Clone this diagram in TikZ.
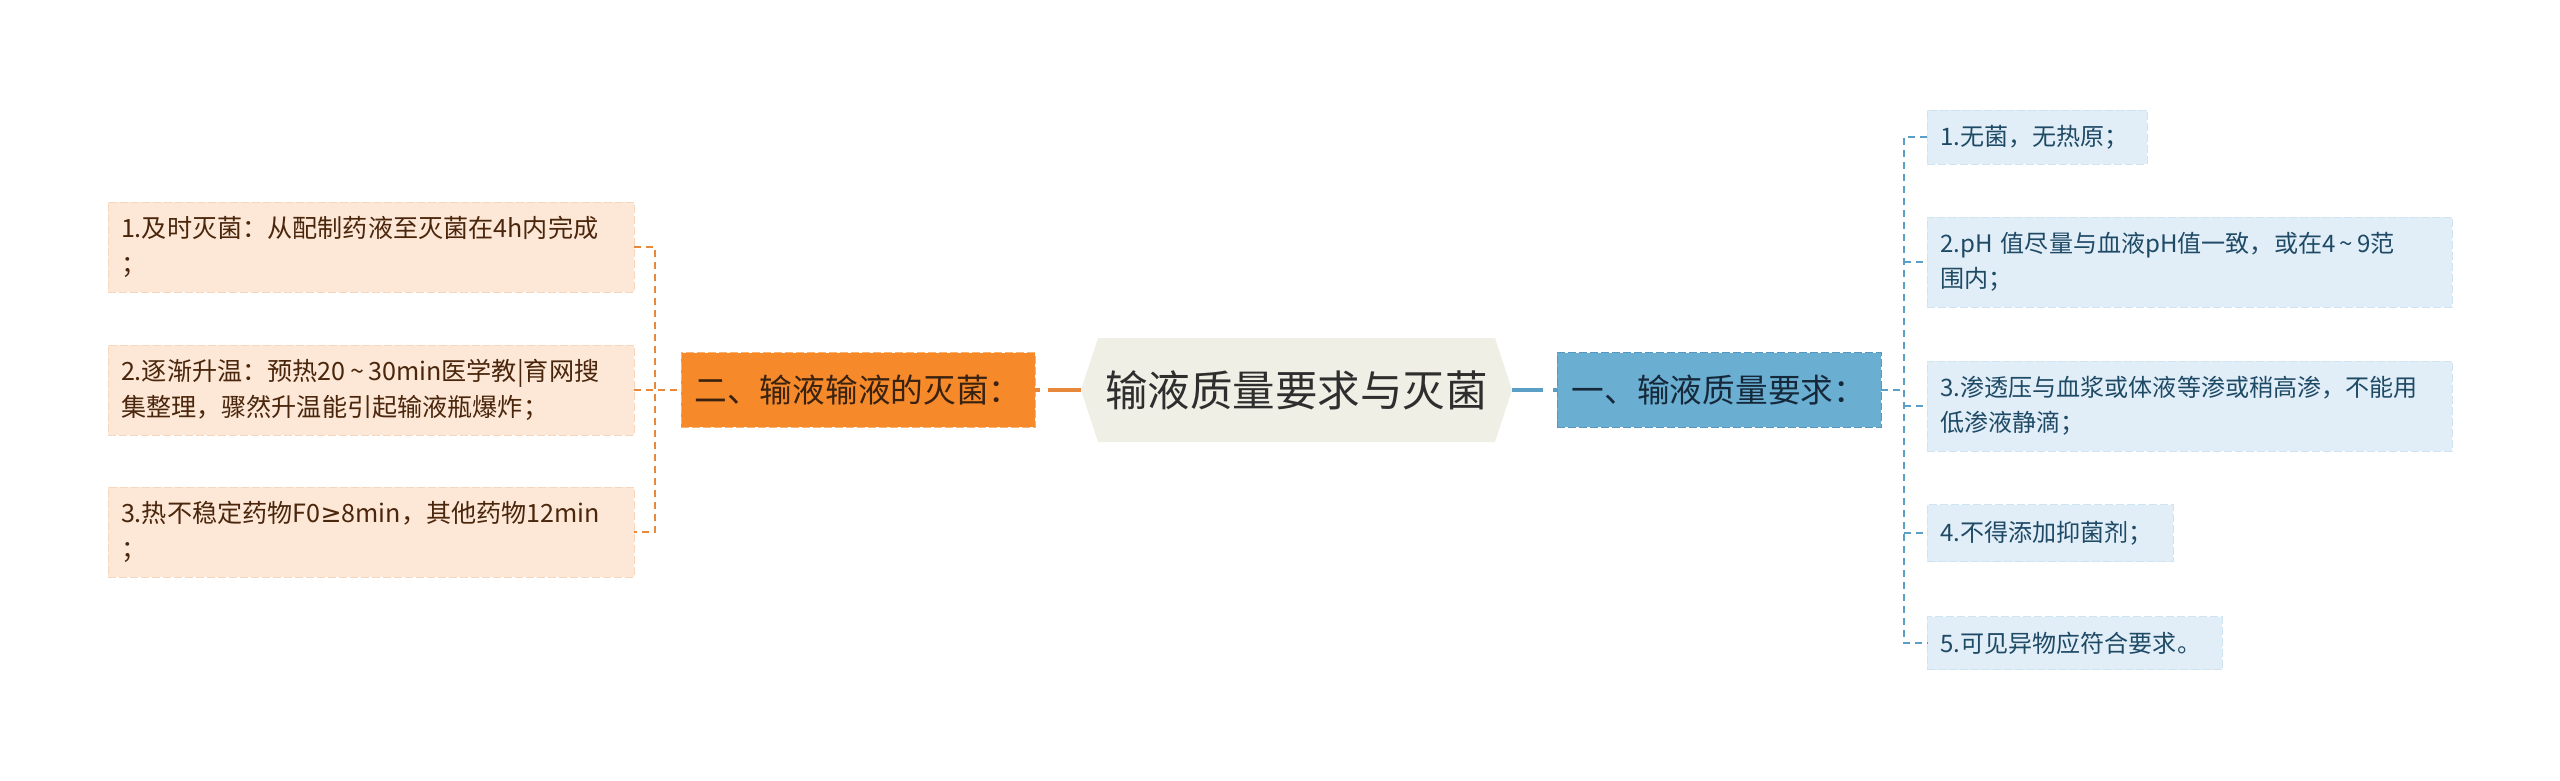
\documentclass[tikz,border=0pt]{standalone}
\usepackage{fontspec}
\setmainfont{Noto Sans CJK SC}
\newfontfamily\symfont{DejaVu Sans}
\usepackage{tikz}
\definecolor{leftfill}{HTML}{FDE7D6}
\definecolor{leftline}{HTML}{F7D6BE}
\definecolor{lefttext}{HTML}{4A260C}
\definecolor{orangefill}{HTML}{F68A2B}
\definecolor{orangeborder}{HTML}{FBB06E}
\definecolor{orangetext}{HTML}{3A2210}
\definecolor{orangeline}{HTML}{E8883A}
\definecolor{rootfill}{HTML}{EFEFE6}
\definecolor{roottext}{HTML}{2E2E2E}
\definecolor{bluefill}{HTML}{6AAED2}
\definecolor{blueborder}{HTML}{5898BE}
\definecolor{bluetext}{HTML}{16293A}
\definecolor{blueline}{HTML}{5B9FC6}
\definecolor{rightfill}{HTML}{E1EEF7}
\definecolor{rightline}{HTML}{CFE3F0}
\definecolor{righttext}{HTML}{1F4A66}
\newcommand{\wave}{\makebox[0.9em]{\textasciitilde}}

\begin{document}
\begin{tikzpicture}[x=0.02cm,y=-0.02cm,
	leftbox/.style={fill=leftfill, draw=leftline, dash pattern=on 0.16cm off 0.06cm, text=lefttext,
		font=\fontsize{14.3}{20.5}\selectfont, text width=10cm, inner xsep=0.26cm, align=left, minimum height=1.8cm},
	rightbox/.style={fill=rightfill, draw=rightline, dash pattern=on 0.16cm off 0.06cm, text=righttext,
		font=\fontsize{13.7}{20}\selectfont, inner xsep=0.26cm, anchor=west, align=left},
	orangelink/.style={draw=orangeline, line width=0.85pt, dash pattern=on 0.14cm off 0.1cm},
	bluelink/.style={draw=blueline, line width=0.85pt, dash pattern=on 0.14cm off 0.1cm}]
	\useasboundingbox (0,0) rectangle (2560,781);
	% centre
	\fill[rootfill] (1081,390) -- (1098,338) -- (1495,338) -- (1512,390) -- (1495,442) -- (1098,442) -- cycle;
	\node[minimum width=8.62cm, minimum height=2.08cm, text=roottext, font=\fontsize{24.2}{28}\selectfont] (root) at (1296.5,390) {输液质量要求与灭菌};
	% left branch
	\node[fill=orangefill, draw=orangeborder, dash pattern=on 0.16cm off 0.06cm, text=orangetext, font=\fontsize{18.6}{22}\selectfont,
		minimum width=7.08cm, minimum height=1.5cm] (sterile) at (858,390) {二、输液输液的灭菌：};
	\node[leftbox] (s1) at (371,247) {1.及时灭菌：从配制药液至灭菌在4h内完成\\；};
	\node[leftbox] (s2) at (371,390) {2.逐渐升温：预热20\wave30min医学教|育网搜\\集整理，骤然升温能引起输液瓶爆炸；};
	\node[leftbox] (s3) at (371,532) {3.热不稳定药物F0{\symfont ≥}8min，其他药物12min\\；};
	\coordinate (sjoint) at (655,390);
	\draw[orangeline, line width=2.2pt, dash pattern=on 0.66cm off 0.16cm] (root.west) -- (sterile.east);
	\draw[orangelink] (s1.east) -- (s1.east -| sjoint) -- (s3.east -| sjoint) -- (s3.east);
	\draw[orangelink] (s2.east) -- (sterile.west);
	% right branch
	\node[fill=bluefill, draw=blueborder, dash pattern=on 0.16cm off 0.06cm, text=bluetext, font=\fontsize{18.6}{22}\selectfont,
		minimum width=6.48cm, minimum height=1.5cm] (quality) at (1719,390) {一、输液质量要求：};
	\node[rightbox, text width=3.88cm, minimum height=1.08cm] (q1) at (1927,137) {1.无菌，无热原；};
	\node[rightbox, text width=9.98cm, minimum height=1.8cm] (q2) at (1927,262) {2.pH 值尽量与血液pH值一致，或在4\wave9范\\围内；};
	\node[rightbox, text width=9.98cm, minimum height=1.8cm] (q3) at (1927,406) {3.渗透压与血浆或体液等渗或稍高渗，不能用\\低渗液静滴；};
	\node[rightbox, text width=4.4cm, minimum height=1.14cm] (q4) at (1927,533) {4.不得添加抑菌剂；};
	\node[rightbox, text width=5.38cm, minimum height=1.06cm] (q5) at (1927,643) {5.可见异物应符合要求。};
	\coordinate (qjoint) at (1904,390);
	\draw[blueline, line width=2.2pt, dash pattern=on 0.62cm off 0.2cm] (root.east) -- (quality.west);
	\draw[bluelink] (quality.east) -- (qjoint);
	\draw[bluelink] (q1.west) -- (q1.west -| qjoint) -- (q5.west -| qjoint) -- (q5.west);
	\foreach \n in {2,3,4}
		\draw[bluelink] (q\n.west -| qjoint) -- (q\n.west);
\end{tikzpicture}
\end{document}
